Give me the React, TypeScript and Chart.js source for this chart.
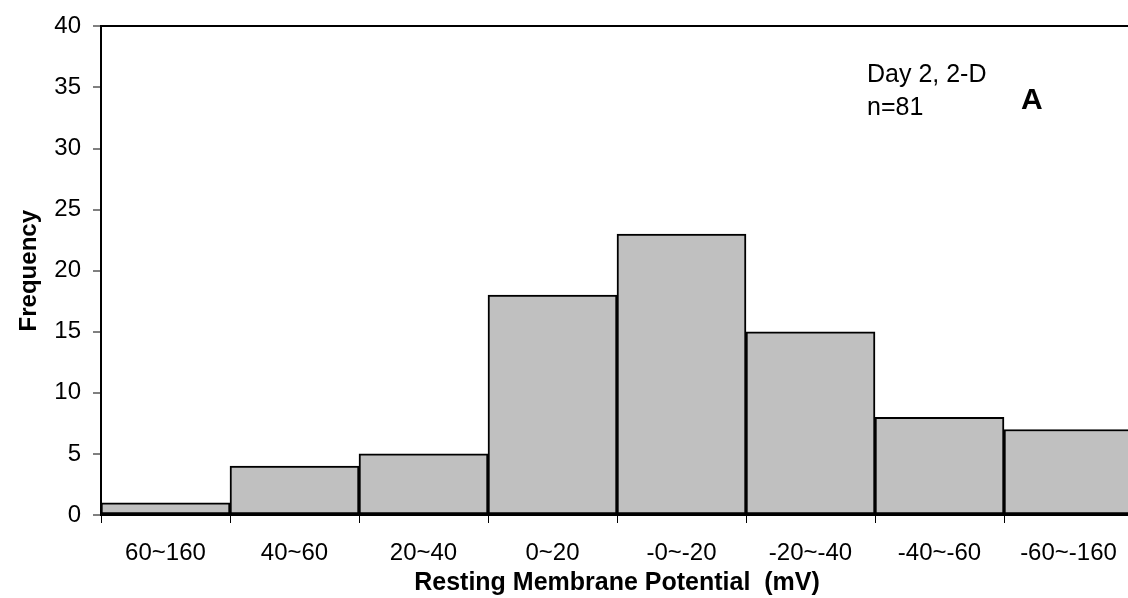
import React, { useEffect, useRef } from "react";
import { Chart, registerables } from "chart.js";

Chart.register(...registerables);

const categories = ["60~160", "40~60", "20~40", "0~20", "-0~-20", "-20~-40", "-40~-60", "-60~-160"];
const frequency = [1, 4, 5, 18, 23, 15, 8, 7];
const yMin = 0;
const yMax = 40;
const yStep = 5;
const xTitle = "Resting Membrane Potential  (mV)";
const yTitle = "Frequency";
const noteLines = ["Day 2, 2-D", "n=81"];
const panelLabel = "A";

const FONT = "'Liberation Sans', Arial, Helvetica, sans-serif";

const annotationPlugin = {
  id: "annotations",
  afterDraw(chart: any) {
    const ctx = chart.ctx;
    ctx.save();
    ctx.fillStyle = "#000";
    ctx.textAlign = "left";
    ctx.textBaseline = "alphabetic";
    ctx.font = `25px ${FONT}`;
    ctx.fillText(noteLines[0], 867, 82);
    ctx.fillText(noteLines[1], 867, 115);
    ctx.font = `bold 30px ${FONT}`;
    ctx.fillText(panelLabel, 1021, 109);
    ctx.restore();
  },
};

export default function App() {
  const canvasRef = useRef<HTMLCanvasElement | null>(null);

  useEffect(() => {
    const canvas = canvasRef.current;
    if (!canvas) return;
    const chart = new Chart(canvas, {
      type: "bar",
      data: {
        labels: categories,
        datasets: [
          {
            data: frequency,
            backgroundColor: "#c0c0c0",
            borderColor: "#000000",
            borderWidth: 2,
            borderSkipped: false,
            barPercentage: 1,
            categoryPercentage: 1,
          },
        ],
      },
      options: {
        responsive: false,
        animation: false,
        devicePixelRatio: 1,
        layout: { padding: { top: 23, right: 7, bottom: 0, left: 0 } },
        plugins: {
          legend: { display: false },
          tooltip: { enabled: false },
        },
        scales: {
          x: {
            offset: true,
            afterFit: (scale: any) => {
              scale.height = 83;
            },
            grid: {
              offset: true,
              color: "rgba(0,0,0,0)",
              tickColor: "#000",
              tickWidth: 1,
              tickLength: 8,
            },
            border: { display: true, color: "#000", width: 2 },
            ticks: {
              color: "#000",
              font: { family: FONT, size: 24 },
              padding: 16,
              maxRotation: 0,
              autoSkip: false,
            },
            title: {
              display: true,
              text: xTitle,
              color: "#000",
              font: { family: FONT, size: 25, weight: "bold" },
              padding: { top: 0, bottom: 0 },
            },
          },
          y: {
            min: yMin,
            max: yMax,
            afterFit: (scale: any) => {
              scale.width = 101;
            },
            grid: {
              color: (c: any) => (c.tick && c.tick.value === yMax ? "#000" : "rgba(0,0,0,0)"),
              lineWidth: 2,
              tickColor: "#000",
              tickWidth: 1,
              tickLength: 8,
            },
            border: { display: true, color: "#000", width: 2 },
            ticks: {
              stepSize: yStep,
              color: "#000",
              font: { family: FONT, size: 24 },
              padding: 12,
            },
            title: {
              display: true,
              text: yTitle,
              color: "#000",
              font: { family: FONT, size: 24, weight: "bold" },
              padding: { top: 15, bottom: 0 },
            },
          },
        },
      },
      plugins: [annotationPlugin],
    });
    return () => chart.destroy();
  }, []);

  return (
    <div
      style={{
        position: "fixed",
        left: 0,
        top: 0,
        width: 1128,
        height: 598,
        overflow: "hidden",
        background: "#fff",
      }}
    >
      <canvas ref={canvasRef} width={1140} height={598} style={{ display: "block", width: 1140, height: 598 }} />
    </div>
  );
}
